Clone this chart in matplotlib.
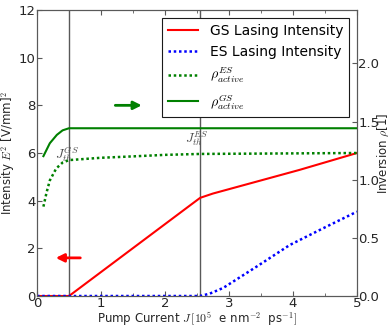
import matplotlib
matplotlib.use("Agg")
import matplotlib.pyplot as plt

plt.rcParams['mathtext.fontset'] = 'cm'
plt.rcParams['font.size'] = 9
plt.rcParams['xtick.direction'] = 'in'
plt.rcParams['ytick.direction'] = 'in'

# GS lasing intensity [V/mm]^2
gs_j = [0.0, 0.5, 2.4, 2.55, 2.75, 4.1, 5.0]
gs_int = [0.0, 0.0, 3.82, 4.12, 4.3, 5.29, 6.0]

# ES lasing intensity [V/mm]^2
es_j = [0.0, 2.55, 2.7, 2.91, 3.43, 3.95, 4.47, 5.0]
es_int = [0.0, 0.0, 0.1, 0.34, 1.23, 2.14, 2.84, 3.54]

# active region inversion (right axis)
rho_gs_j = [0.1, 0.2, 0.31, 0.4, 0.5, 5.0]
rho_gs = [1.203, 1.314, 1.386, 1.425, 1.443, 1.443]

rho_es_j = [0.1, 0.15, 0.2, 0.3, 0.4, 0.5, 0.75, 1.0, 1.5, 2.0, 2.55, 5.0]
rho_es = [0.769, 0.892, 0.994, 1.097, 1.148, 1.169, 1.179, 1.189, 1.201, 1.214, 1.222, 1.23]

j_th_gs = 0.5
j_th_es = 2.55

fig = plt.figure(figsize=(3.88, 3.25), dpi=100)
ax = fig.add_axes([0.0954, 0.0892, 0.8246, 0.8800])
ax2 = ax.twinx()

grey = '0.35'
txt = '0.15'
for a in (ax, ax2):
    for s in a.spines.values():
        s.set_color(grey)

ax.axvline(j_th_gs, color=grey, lw=1)
ax.axvline(j_th_es, color=grey, lw=1)

dots = (1, 1.1)
l1, = ax.plot(gs_j, gs_int, color='red', lw=1.5, label='GS Lasing Intensity')
l2, = ax.plot(es_j, es_int, color='blue', lw=1.8, ls=(0, dots), label='ES Lasing Intensity')
l3, = ax2.plot(rho_es_j, rho_es, color='green', lw=1.8, ls=(0, dots), label=r'$\rho_{active}^{ES}$')
l4, = ax2.plot(rho_gs_j, rho_gs, color='green', lw=1.5, label=r'$\rho_{active}^{GS}$')

ax.annotate('', xy=(0.25, 1.6), xytext=(0.72, 1.6),
            arrowprops=dict(arrowstyle='-|>', color='red', lw=2, mutation_scale=12))
ax.annotate('', xy=(1.68, 8.0), xytext=(1.18, 8.0),
            arrowprops=dict(arrowstyle='-|>', color='green', lw=2, mutation_scale=12))

ax.text(0.47, 5.95, r'$J_{th}^{GS}$', ha='center', va='center', fontsize=9.5, color='0.3')
ax.text(2.49, 6.6, r'$J_{th}^{ES}$', ha='center', va='center', fontsize=9.5, color='0.3')

ax.set_xlim(0, 5)
ax.set_ylim(0, 12)
ax2.set_ylim(0, 2.46)
ax.set_xticks([0, 1, 2, 3, 4, 5])
ax.set_xticks([0.5, 1.5, 2.5, 3.5, 4.5], minor=True)
ax.set_yticks([0, 2, 4, 6, 8, 10, 12])
ax2.set_yticks([0.0, 0.5, 1.0, 1.5, 2.0])
ax2.set_yticklabels(['0.0', '0.5', '1.0', '1.5', '2.0'])
ax.tick_params(axis='both', which='both', colors=grey, labelcolor=txt, top=True, pad=1,
               labelsize=9.5)
ax2.tick_params(axis='y', colors=grey, labelcolor=txt, pad=1, labelsize=9.5)

ax.set_xlabel(r'Pump Current $J\,[10^5$  e nm$^{-2}$  ps$^{-1}]$', color=txt,
              fontsize=8.5, labelpad=0)
ax.set_ylabel(r'Intensity $E^2$ [V/mm]$^2$', color=txt, fontsize=8.5, labelpad=1)
ax2.set_ylabel(r'Inversion $\rho$[1]', color=txt, fontsize=8.5, labelpad=-3)

leg = ax2.legend([l1, l2, l3, l4], [l.get_label() for l in (l1, l2, l3, l4)],
                 loc='upper right', fancybox=False, framealpha=1, edgecolor='0.1',
                 fontsize=10, borderaxespad=0.6, handlelength=2.2)
leg.get_frame().set_linewidth(0.8)

fig.savefig('out.png', dpi=100)
